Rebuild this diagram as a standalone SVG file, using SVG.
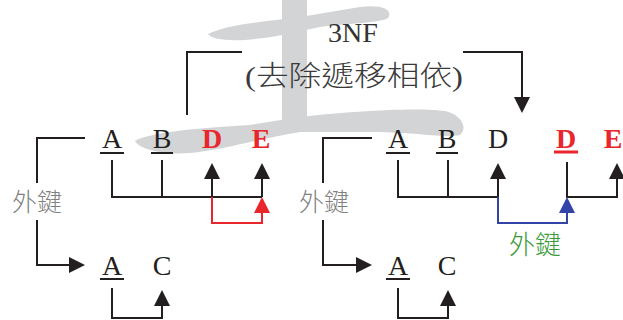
<svg xmlns="http://www.w3.org/2000/svg" width="623" height="320" viewBox="0 0 623 320">
<defs>
<style>
.t{font-family:"Liberation Serif","Noto Sans CJK TC",serif;font-size:28px;fill:#231f20;text-anchor:middle}
.rb{fill:#e8262b;font-weight:bold}
.cj{font-family:"Noto Sans CJK TC",sans-serif;text-anchor:middle;font-weight:300}
.ln{fill:none;stroke:#231f20;stroke-width:2}
.ul{stroke:#231f20;stroke-width:2}
.wm{fill:#d3d4d6}
</style>
<marker id="ah" markerUnits="userSpaceOnUse" markerWidth="16" markerHeight="16" refX="1" refY="8" orient="auto"><path d="M0,0 L16,8 L0,16 Z" fill="#231f20"/></marker>
<marker id="ahr" markerUnits="userSpaceOnUse" markerWidth="16" markerHeight="16" refX="1" refY="8" orient="auto"><path d="M0,0 L16,8 L0,16 Z" fill="#e8262b"/></marker>
<marker id="ahb" markerUnits="userSpaceOnUse" markerWidth="16" markerHeight="16" refX="1" refY="8" orient="auto"><path d="M0,0 L16,8 L0,16 Z" fill="#3344a8"/></marker>
</defs>
<rect width="623" height="320" fill="#ffffff"/>
<g id="watermark">
<path class="wm" d="M282,0 L307,0 L307,130 L282,130 Z"/>
<path class="wm" d="M208,34 C228,24 262,22 300,17 L360,7 C380,4 394,9 388,18 C380,23 350,23 320,27 L282,35 C252,41 214,43 208,34 Z"/>
<path class="wm" d="M135,141 C150,132 200,128 250,125 L300,117 C350,111 420,107 445,111 C462,115 468,128 460,135 C445,138 420,133 380,132 L300,132 C262,138 222,150 190,153 C165,155 140,150 135,141 Z"/>
</g>
<g id="title">
<text class="t" x="353" y="42" style="fill:#333">3NF</text>
<text x="354" y="86" font-family="Liberation Serif, Noto Sans CJK TC, serif" font-size="28" font-weight="300" fill="#3a3a3a" text-anchor="middle" textLength="218" lengthAdjust="spacingAndGlyphs">(去除遞移相依)</text>
</g>
<g id="left-table">
<text class="t" x="112" y="148">A</text>
<text class="t" x="162" y="148">B</text>
<text class="t rb" x="212" y="148">D</text>
<text class="t rb" x="261" y="148">E</text>
<line class="ul" x1="100" y1="153" x2="124" y2="153"/>
<line class="ul" x1="151" y1="153" x2="173" y2="153"/>
</g>
<g id="left-sub">
<text class="t" x="112" y="275">A</text>
<text class="t" x="162" y="275">C</text>
<line class="ul" x1="100" y1="279" x2="124" y2="279"/>
</g>
<g id="right-table">
<text class="t" x="398" y="148">A</text>
<text class="t" x="447" y="148">B</text>
<text class="t" x="498" y="148">D</text>
<text class="t rb" x="566" y="148">D</text>
<text class="t rb" x="613" y="148">E</text>
<line class="ul" x1="386" y1="153" x2="410" y2="153"/>
<line class="ul" x1="436" y1="153" x2="458" y2="153"/>
<line x1="554" y1="152" x2="578" y2="152" stroke="#e8262b" stroke-width="3"/>
</g>
<g id="right-sub">
<text class="t" x="398" y="275">A</text>
<text class="t" x="447" y="275">C</text>
<line class="ul" x1="386" y1="279" x2="410" y2="279"/>
</g>
<g id="labels">
<text class="cj" x="37" y="211" font-size="25" fill="#808080">外鍵</text>
<text class="cj" x="324" y="211" font-size="25" fill="#808080">外鍵</text>
<text class="cj" x="535" y="254" font-size="26" fill="#3a9a3a">外鍵</text>
</g>
<g id="connectors">
<path class="ln" d="M187,115 V52 H242"/>
<path class="ln" d="M463,52 H522 V98" marker-end="url(#ah)"/>
<path class="ln" d="M37,183 V138 H85"/>
<path class="ln" d="M37,220 V265 H70" marker-end="url(#ah)"/>
<path class="ln" d="M323,183 V138 H372"/>
<path class="ln" d="M323,220 V265 H357" marker-end="url(#ah)"/>
<path class="ln" d="M112,160 V197 H262"/>
<path class="ln" d="M162,160 V197"/>
<path class="ln" d="M212,197 V178" marker-end="url(#ah)"/>
<path class="ln" d="M262,197 V178" marker-end="url(#ah)"/>
<path fill="none" stroke="#e8262b" stroke-width="2" d="M212,197 V223 H262 V212" marker-end="url(#ahr)"/>
<path class="ln" d="M398,160 V197 H498 V178" marker-end="url(#ah)"/>
<path class="ln" d="M448,160 V197"/>
<path class="ln" d="M567,162 V197 H617 V178" marker-end="url(#ah)"/>
<path fill="none" stroke="#3344a8" stroke-width="2" d="M498,197 V223 H567 V212" marker-end="url(#ahb)"/>
<path class="ln" d="M112,288 V318 H162 V305" marker-end="url(#ah)"/>
<path class="ln" d="M398,288 V318 H448 V305" marker-end="url(#ah)"/>
</g>
</svg>
